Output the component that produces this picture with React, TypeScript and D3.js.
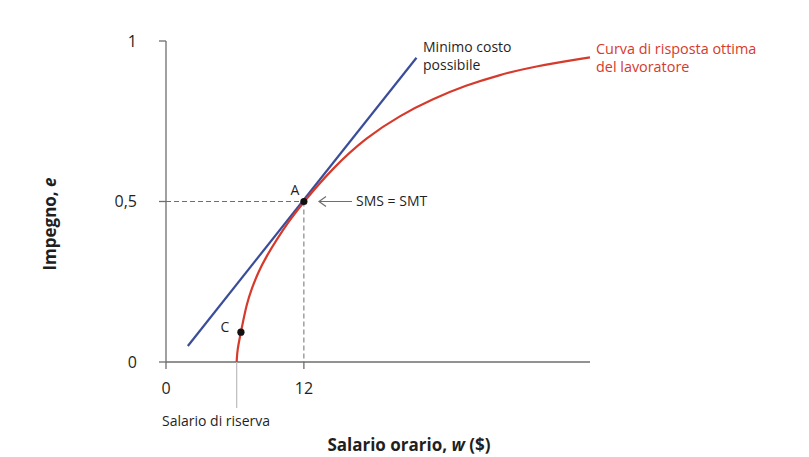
import * as d3 from 'd3'

// worker's best response curve
const wage = [6.15, 6.2, 6.52, 7.01, 7.45, 8.03, 8.75, 9.68, 10.64, 12.0, 14.55, 17.45, 20.35, 23.25, 26.1, 29.0, 31.9, 36.9]
const effort = [0, 0.037, 0.093, 0.18, 0.228, 0.28, 0.33, 0.384, 0.436, 0.5, 0.606, 0.7, 0.768, 0.82, 0.862, 0.894, 0.92, 0.949]

// lowest cost isocost line
const isoW = [1.9, 21.8]
const isoE = [0.05, 0.948]

const xTicks = [0, 12]
const xTickLabels = ['0', '12']
const yTicks = [0, 0.5, 1]
const yTickLabels = ['0', '0,5', '1']

const pointA = {w: 12, e: 0.5}
const pointC = {w: 6.52, e: 0.093}
const reservationWage = 6.15

const RED = '#d63a2c'
const BLUE = '#3a4d99'
const AXIS = '#6e6e6e'
const TEXT = '#1f1f1f'
const FONT = "'Open Sans', 'Noto Sans', sans-serif"

export default function App() {
  const width = 809
  const height = 457

  const x = d3.scaleLinear().domain([0, 36.9]).range([166, 590])
  const y = d3.scaleLinear().domain([0, 1]).range([362, 41])

  const curve = d3.line<number>()
    .x((_, i) => x(wage[i]))
    .y((_, i) => y(effort[i]))
    .curve(d3.curveBasis)(effort) ?? undefined

  const iso = d3.line<number>()
    .x((_, i) => x(isoW[i]))
    .y((_, i) => y(isoE[i]))(isoE) ?? undefined

  const ax = x(pointA.w)
  const ay = y(pointA.e)

  return (
    <svg width={width} height={height} style={{position: 'absolute', left: 0, top: 0}} fontFamily={FONT}>
      <rect width={width} height={height} fill="#fff" />

      {/* dashed guides to A */}
      <g stroke={AXIS} strokeWidth={1} strokeDasharray="5,3" fill="none">
        <line x1={x(0)} x2={ax} y1={ay} y2={ay} />
        <line x1={ax} x2={ax} y1={ay} y2={y(0)} />
      </g>

      {/* axes */}
      <g stroke={AXIS} strokeWidth={1.3} fill="none">
        <line x1={x(0)} x2={x(0)} y1={y(1)} y2={y(0)} />
        <line x1={x(0)} x2={x.range()[1]} y1={y(0)} y2={y(0)} />
        {yTicks.map(t => (
          <line key={t} x1={x(0) - 7} x2={x(0)} y1={y(t)} y2={y(t)} />
        ))}
        {xTicks.map(t => (
          <line key={t} x1={x(t)} x2={x(t)} y1={y(0)} y2={y(0) + 7} />
        ))}
      </g>
      <line x1={x(reservationWage)} x2={x(reservationWage)} y1={y(0)} y2={408} stroke="#bdbdbd" strokeWidth={1.2} />

      <g fill={TEXT} fontSize={16}>
        {yTicks.map((t, i) => (
          <text key={t} x={x(0) - 29} y={y(t)} dy="0.35em" textAnchor="end">{yTickLabels[i]}</text>
        ))}
        {xTicks.map((t, i) => (
          <text key={t} x={x(t)} y={388} dy="0.35em" textAnchor="middle">{xTickLabels[i]}</text>
        ))}
      </g>

      <text x={162} y={421} dy="0.35em" fontSize={14} fill={TEXT}>Salario di riserva</text>

      {/* lines */}
      <path d={iso} stroke={BLUE} strokeWidth={2.2} fill="none" />
      <path d={curve} stroke={RED} strokeWidth={2.2} fill="none" />

      {/* points */}
      <circle cx={ax} cy={ay} r={3.6} fill="#111" />
      <circle cx={x(pointC.w)} cy={y(pointC.e)} r={3.6} fill="#111" />
      <text x={295} y={190} dy="0.35em" textAnchor="middle" fontSize={14} fill={TEXT}>A</text>
      <text x={225} y={327} dy="0.35em" textAnchor="middle" fontSize={14} fill={TEXT}>C</text>

      {/* SMS = SMT pointer */}
      <line x1={352} x2={319} y1={ay} y2={ay} stroke={AXIS} strokeWidth={1.2} />
      <path d={`M${326},${ay - 5} L${319},${ay} L${326},${ay + 5}`} stroke={AXIS} strokeWidth={1.2} fill="none" />
      <text x={356} y={ay} dy="0.35em" fontSize={14} fill={TEXT}>SMS = SMT</text>

      <g fontSize={14} fill={TEXT}>
        <text x={423} y={47} dy="0.35em">Minimo costo</text>
        <text x={423} y={65} dy="0.35em">possibile</text>
      </g>
      <g fontSize={14.4} fill={RED}>
        <text x={596} y={49} dy="0.35em">Curva di risposta ottima</text>
        <text x={596} y={67} dy="0.35em">del lavoratore</text>
      </g>

      {/* axis titles */}
      <text x={409} y={445} dy="0.35em" textAnchor="middle" fontSize={17} fontWeight={700} fill={TEXT}>
        Salario orario, <tspan fontStyle="italic">w</tspan> ($)
      </text>
      <text transform={`translate(50, 224) rotate(-90)`} dy="0.35em" textAnchor="middle" fontSize={17} fontWeight={700} fill={TEXT}>
        Impegno, <tspan fontStyle="italic">e</tspan>
      </text>
    </svg>
  )
}
